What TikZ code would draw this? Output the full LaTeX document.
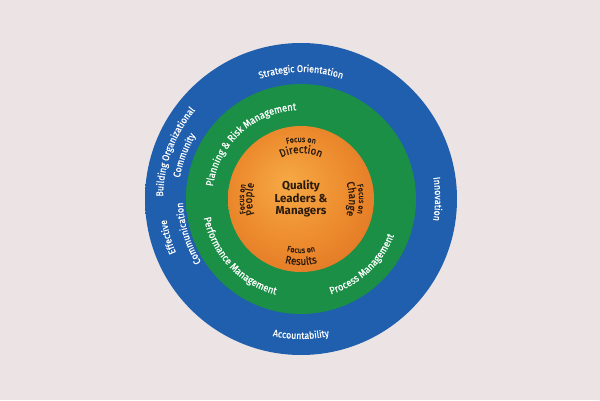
\documentclass[tikz,border=0pt]{standalone}
\usepackage{fontspec}
\setmainfont{Fira Sans}
\newfontfamily\tightfont{Fira Sans}[FakeStretch=0.9, FakeBold=0.6]
\usetikzlibrary{decorations.text}

\definecolor{paper}{HTML}{ECE4E4}
\definecolor{bluelight}{HTML}{205FAE}
\definecolor{bluemid}{HTML}{1B53A2}
\definecolor{bluedark}{HTML}{143C85}
\definecolor{greenmid}{HTML}{1A8F45}
\definecolor{greendark}{HTML}{157A3A}
\definecolor{orangelight}{HTML}{F6A945}
\definecolor{orangemid}{HTML}{EC8A2D}
\definecolor{orangedark}{HTML}{D05A1A}
\definecolor{ink}{HTML}{2A1B0E}

\pgfdeclareradialshading{bluering}{\pgfpoint{0bp}{8bp}}{color(0bp)=(bluelight); color(37bp)=(bluelight); color(47bp)=(bluemid); color(50bp)=(bluedark)}
\pgfdeclareradialshading{greenring}{\pgfpoint{0bp}{0bp}}{color(0bp)=(greenmid); color(44bp)=(greenmid); color(50bp)=(greendark)}
\pgfdeclareradialshading{orangeglow}{\pgfpoint{-5bp}{6bp}}{color(0bp)=(orangelight); color(20bp)=(orangemid); color(50bp)=(orangedark)}

\tikzset{
  ringtext/.style={decorate, decoration={text along path, text align=center, text color=white,
      text={|\tightfont\fontsize{9.8}{9.8}\selectfont|#1}}},
  bandtext/.style={decorate, decoration={text along path, text align=center, text color=white,
      text={|\tightfont\fontsize{10.3}{10.3}\selectfont|#1}}},
  focustext/.style={decorate, decoration={text along path, text align=center, text color=ink,
      text={|\tightfont\fontsize{8}{8}\selectfont|#1}}},
  aimtext/.style={decorate, decoration={text along path, text align=center, text color=ink,
      text={|\tightfont\fontsize{11}{11}\selectfont|#1}}},
}

\begin{document}
\begin{tikzpicture}[x=1pt,y=1pt]
    \fill[paper] (0,0) rectangle (600,400);
    \useasboundingbox (0,0) rectangle (600,400);
    \coordinate (hub) at (301,201);
    % Rings
    \shade[shading=bluering] (hub) circle[radius=156pt];
    \shade[shading=greenring] (hub) circle[radius=115pt];
    \shade[shading=orangeglow] (hub) circle[radius=73pt];
    % Outer ring
    \path[ringtext=Strategic Orientation] (hub) ++(130:127pt) arc[start angle=130, end angle=50, radius=127pt];
    \path[ringtext=Innovation] (hub) ++(40:134pt) arc[start angle=40, end angle=-40, radius=134pt];
    \path[ringtext=Accountability] (hub) ++(230:140pt) arc[start angle=230, end angle=310, radius=140pt];
    \path[ringtext=Building Organizational] (hub) ++(205:138pt) arc[start angle=205, end angle=114, radius=138pt];
    \path[ringtext=Community] (hub) ++(205:123pt) arc[start angle=205, end angle=114, radius=123pt];
    \path[ringtext=Effective] (hub) ++(240:136pt) arc[start angle=240, end angle=152, radius=136pt];
    \path[ringtext=Communication] (hub) ++(240:118pt) arc[start angle=240, end angle=154, radius=118pt];
    % Middle ring
    \path[bandtext=Planning {\&} Risk Management] (hub) ++(195:89pt) arc[start angle=195, end angle=70, radius=89pt];
    \path[bandtext=Performance Management] (hub) ++(165:99pt) arc[start angle=165, end angle=281, radius=99pt];
    \path[bandtext=Process Management] (hub) ++(260:100pt) arc[start angle=260, end angle=366, radius=100pt];
    % Core
    \path[focustext=Focus on] (hub) ++(135:57pt) arc[start angle=135, end angle=45, radius=57pt];
    \path[aimtext=Direction] (hub) ++(140:46pt) arc[start angle=140, end angle=40, radius=46pt];
    \path[focustext=Focus on] (hub) ++(230:57pt) arc[start angle=230, end angle=130, radius=57pt];
    \path[aimtext=People] (hub) ++(230:49pt) arc[start angle=230, end angle=130, radius=49pt];
    \path[focustext=Focus on] (hub) ++(50:58pt) arc[start angle=50, end angle=-50, radius=58pt];
    \path[aimtext=Change] (hub) ++(50:48pt) arc[start angle=50, end angle=-50, radius=48pt];
    \path[focustext=Focus on] (hub) ++(225:54pt) arc[start angle=225, end angle=315, radius=54pt];
    \path[aimtext=Results] (hub) ++(230:66pt) arc[start angle=230, end angle=310, radius=66pt];
    \node[align=center, text=ink, font=\bfseries\fontsize{11.5}{12.5}\selectfont] (core) at (hub) {Quality\\Leaders \&\\Managers};
\end{tikzpicture}
\end{document}
